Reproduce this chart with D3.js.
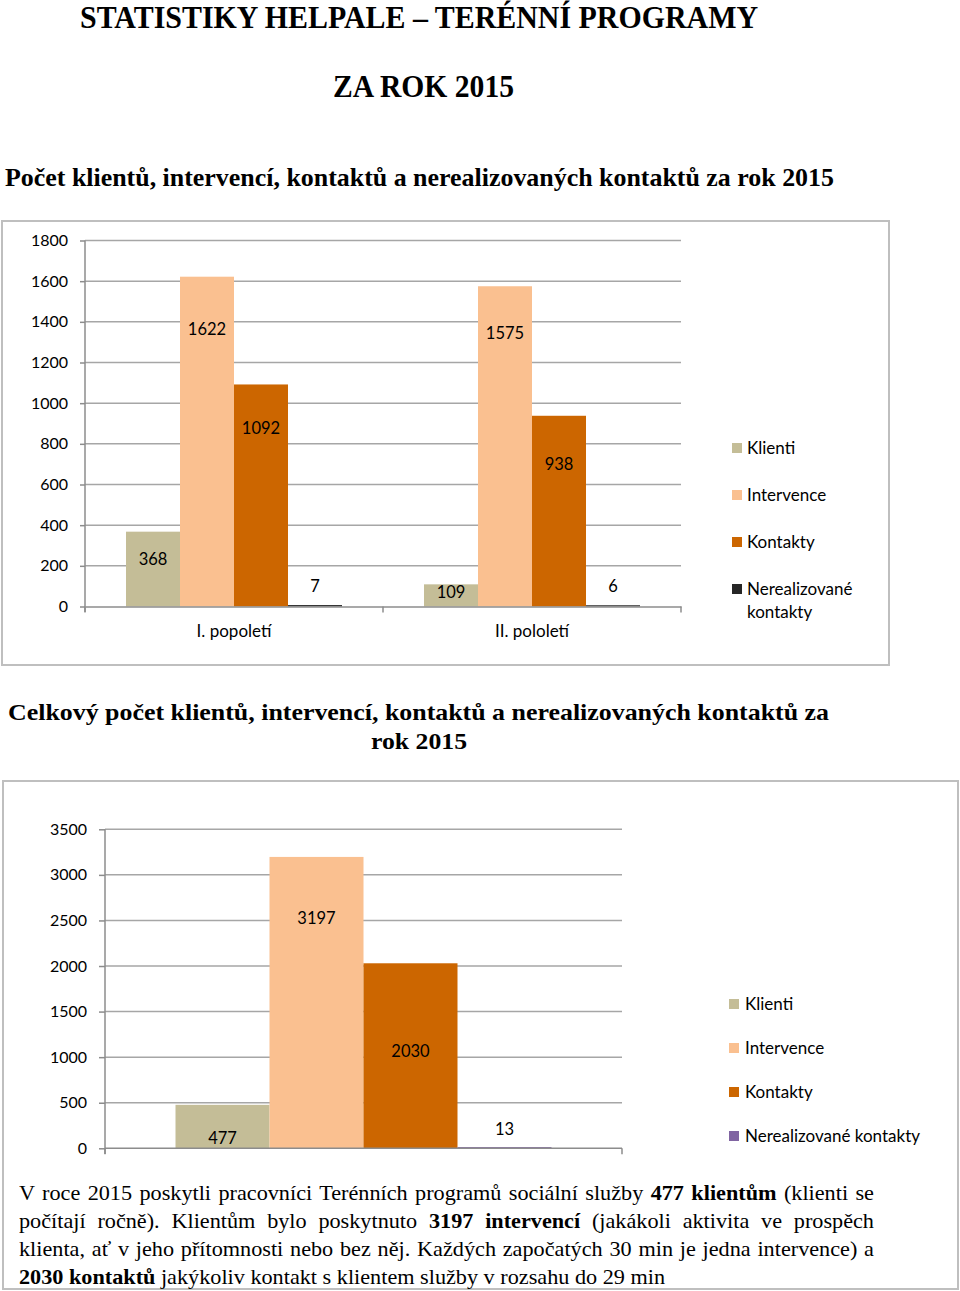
<!DOCTYPE html>
<html><head><meta charset="utf-8">
<script src="https://cdn.jsdelivr.net/npm/d3@7/dist/d3.min.js"></script>
<style>
html,body{margin:0;padding:0;background:#fff;}
#wrap{position:relative;width:960px;height:1291px;overflow:hidden;}
svg{position:absolute;left:0;top:0;}
#para{position:absolute;left:19px;top:1179px;width:855px;font-family:"Liberation Serif","Times New Roman",serif;font-size:22px;line-height:28px;color:#000;transform-origin:0 0;}
#para span.l{display:block;text-align:justify;text-align-last:justify;white-space:nowrap;}
#para span.last{display:inline-block;text-align:left;white-space:nowrap;}
</style></head>
<body><div id="wrap"><svg id="svg" width="960" height="1291"></svg><div id="para"></div></div>
<script>
// ---------- data ----------
const series = ["Klienti", "Intervence", "Kontakty", "Nerealizované kontakty"];
const halves = ["I. popoletí", "II. pololetí"];
const klienti = [368, 109];
const intervence = [1622, 1575];
const kontakty = [1092, 938];
const nerealizovane = [7, 6];
const yTicks1 = [0, 200, 400, 600, 800, 1000, 1200, 1400, 1600, 1800];

const totalValues = [477, 3197, 2030, 13];
const yTicks2 = [0, 500, 1000, 1500, 2000, 2500, 3000, 3500];

// ---------- styles ----------
const colors1 = ["#C4BD97", "#FAC090", "#CC6600", "#262626"];
const colors2 = ["#C4BD97", "#FAC090", "#CC6600", "#8064A2"];
const labelDy1 = [[28, 53, 44, -19], [8, 47, 48, -19]];
const labelDy2 = [33, 61, 88, -18];
const chartFont = "Lato, 'Open Sans', sans-serif";
const serif = "'Liberation Serif','Times New Roman',serif";
const gridColor = "#a6a6a6";

const svg = d3.select("#svg");

// ---------- titles ----------
function title(txt, x, y, size, len, anchor) {
  const t = svg.append("text").attr("x", x).attr("y", y)
    .attr("font-family", serif).attr("font-weight", "bold")
    .attr("font-size", size).attr("fill", "#000").text(txt);
  if (anchor) t.attr("text-anchor", anchor);
  if (len) t.attr("textLength", len).attr("lengthAdjust", "spacingAndGlyphs");
  return t;
}
title("STATISTIKY HELPALE – TERÉNNÍ PROGRAMY", 80, 28, 31, 678);
title("ZA ROK 2015", 333, 97, 31, 181);
title("Počet klientů, intervencí, kontaktů a nerealizovaných kontaktů za rok 2015", 5, 186, 26, 829);
title("Celkový počet klientů, intervencí, kontaktů a nerealizovaných kontaktů za", 8, 720, 24, 821);
title("rok 2015", 371, 749, 24, 96);

// ---------- chart 1 ----------
svg.append("rect").attr("x", 2).attr("y", 221).attr("width", 887).attr("height", 444)
  .attr("fill", "#fff").attr("stroke", "#bfbfbf").attr("stroke-width", 2);

const x1 = d3.scaleBand().domain(halves).range([85, 681]).paddingInner(0).paddingOuter(0);
const groupPad1 = 41;
const xs1 = d3.scaleBand().domain(series).range([groupPad1, x1.bandwidth() - groupPad1]).padding(0);
const y1 = d3.scaleLinear().domain([0, 1800]).range([606.5, 240.5]);

const g1 = svg.append("g");
g1.append("g").selectAll("line").data(yTicks1.filter(d => d > 0)).join("line")
  .attr("x1", 85).attr("x2", 681).attr("y1", d => y1(d)).attr("y2", d => y1(d))
  .attr("stroke", gridColor).attr("stroke-width", 1.5);
const ya1 = g1.append("g").attr("transform", "translate(85,0)")
  .call(d3.axisLeft(y1).tickValues(yTicks1).tickSize(5).tickPadding(12).tickFormat(d3.format("d")));
ya1.select(".domain").attr("stroke", "#8c8c8c").attr("stroke-width", 1.5).attr("d", "M0,240.5V612");
ya1.selectAll(".tick line").attr("stroke", "#8c8c8c").attr("stroke-width", 1.5);
ya1.selectAll(".tick text").attr("font-family", chartFont).attr("font-size", 16).attr("fill", "#000");

const rows1 = halves.map((h, i) => ({ half: h, vals: [klienti[i], intervence[i], kontakty[i], nerealizovane[i]] }));
const grp = g1.selectAll("g.grp").data(rows1).join("g").attr("class", "grp")
  .attr("transform", d => `translate(${x1(d.half)},0)`);
grp.selectAll("rect").data(d => d.vals.map((v, j) => ({ v, s: series[j], j }))).join("rect")
  .attr("x", d => xs1(d.s)).attr("width", xs1.bandwidth())
  .attr("y", d => y1(d.v)).attr("height", d => y1(0) - y1(d.v))
  .attr("fill", d => colors1[d.j]);
grp.each(function (d, i) {
  d3.select(this).selectAll("text.lab").data(d.vals.map((v, j) => ({ v, s: series[j], j }))).join("text")
    .attr("class", "lab")
    .attr("x", e => xs1(e.s) + xs1.bandwidth() / 2)
    .attr("y", e => y1(e.v) + labelDy1[i][e.j])
    .attr("dy", "0.35em").attr("text-anchor", "middle")
    .attr("font-family", chartFont).attr("font-size", 16.5).attr("fill", "#000")
    .text(e => e.v);
});
const xa1 = g1.append("g").attr("transform", `translate(0,${y1(0)})`)
  .call(d3.axisBottom(x1).tickSize(0).tickPadding(18));
xa1.select(".domain").attr("stroke", "#8c8c8c").attr("stroke-width", 1.5);
xa1.selectAll(".tick text").attr("font-family", chartFont).attr("font-size", 17).attr("fill", "#000");
g1.append("g").selectAll("line").data([85, 383, 681]).join("line")
  .attr("x1", d => d).attr("x2", d => d).attr("y1", y1(0)).attr("y2", y1(0) + 6)
  .attr("stroke", "#8c8c8c").attr("stroke-width", 1.5);

const leg1 = svg.append("g").selectAll("g").data(series).join("g")
  .attr("transform", (d, i) => `translate(732,${448 + i * 47})`);
leg1.append("rect").attr("x", 0).attr("y", -5).attr("width", 10).attr("height", 10)
  .attr("fill", (d, i) => colors1[i]);
leg1.append("text").attr("x", 15).attr("y", 0)
  .attr("font-family", chartFont).attr("font-size", 17).attr("fill", "#000")
  .each(function (d) {
    const parts = d.split(" ");
    const t = d3.select(this);
    parts.forEach((p, k) => t.append("tspan").attr("x", 15).attr("dy", k === 0 ? "0.35em" : "23").text(p));
  });

// ---------- chart 2 ----------
svg.append("rect").attr("x", 3).attr("y", 781).attr("width", 955).attr("height", 508)
  .attr("fill", "none").attr("stroke", "#bfbfbf").attr("stroke-width", 2);

const x2 = d3.scaleBand().domain(series).range([175.5, 551.5]).padding(0);
const y2 = d3.scaleLinear().domain([0, 3500]).range([1148.3, 829.3]);
const g2 = svg.append("g");
g2.append("g").selectAll("line").data(yTicks2.filter(d => d > 0)).join("line")
  .attr("x1", 105).attr("x2", 622).attr("y1", d => y2(d)).attr("y2", d => y2(d))
  .attr("stroke", gridColor).attr("stroke-width", 1.5);
const ya2 = g2.append("g").attr("transform", "translate(105,0)")
  .call(d3.axisLeft(y2).tickValues(yTicks2).tickSize(6).tickPadding(12).tickFormat(d3.format("d")));
ya2.select(".domain").attr("stroke", "#8c8c8c").attr("stroke-width", 1.5).attr("d", "M0,829.3V1154");
ya2.selectAll(".tick line").attr("stroke", "#8c8c8c").attr("stroke-width", 1.5);
ya2.selectAll(".tick text").attr("font-family", chartFont).attr("font-size", 16).attr("fill", "#000");

const data2 = totalValues.map((v, j) => ({ v, s: series[j], j }));
g2.selectAll("rect.bar").data(data2).join("rect").attr("class", "bar")
  .attr("x", d => x2(d.s)).attr("width", x2.bandwidth())
  .attr("y", d => y2(d.v)).attr("height", d => y2(0) - y2(d.v))
  .attr("fill", d => colors2[d.j]);
g2.append("line").attr("x1", 105).attr("x2", 622).attr("y1", y2(0)).attr("y2", y2(0))
  .attr("stroke", "#8c8c8c").attr("stroke-width", 1.5);
g2.append("g").selectAll("line").data([105, 622]).join("line")
  .attr("x1", d => d).attr("x2", d => d).attr("y1", y2(0)).attr("y2", y2(0) + 6)
  .attr("stroke", "#8c8c8c").attr("stroke-width", 1.5);
g2.selectAll("text.lab").data(data2).join("text").attr("class", "lab")
  .attr("x", d => x2(d.s) + x2.bandwidth() / 2)
  .attr("y", d => y2(d.v) + labelDy2[d.j]).attr("dy", "0.35em").attr("text-anchor", "middle")
  .attr("font-family", chartFont).attr("font-size", 16.5).attr("fill", "#000")
  .text(d => d.v);

const leg2 = svg.append("g").selectAll("g").data(series).join("g")
  .attr("transform", (d, i) => `translate(729,${1004 + i * 44})`);
leg2.append("rect").attr("x", 0).attr("y", -5).attr("width", 10).attr("height", 10)
  .attr("fill", (d, i) => colors2[i]);
leg2.append("text").attr("x", 16).attr("y", 0).attr("dy", "0.35em")
  .attr("font-family", chartFont).attr("font-size", 17).attr("fill", "#000").text(d => d);

// ---------- paragraph ----------
const paraLines = [
  'V roce 2015 poskytli pracovníci Terénních programů sociální služby <b>477 klientům</b> (klienti se',
  'počítají ročně). Klientům bylo poskytnuto <b>3197 intervencí</b> (jakákoli aktivita ve prospěch',
  'klienta, ať v jeho přítomnosti nebo bez něj. Každých započatých 30 min je jedna intervence) a',
  '<b>2030 kontaktů</b> jakýkoliv kontakt s klientem služby v rozsahu do 29 min'
];
const para = d3.select("#para");
para.selectAll("span").data(paraLines).join("span")
  .attr("class", (d, i) => i < paraLines.length - 1 ? "l" : "last")
  .html(d => d);
// condense horizontally so the last (unjustified) line matches the reference width
const lastW = para.select("span.last").node().getBoundingClientRect().width;
const sx = 646 / lastW;
para.style("width", (855 / sx) + "px").style("transform", `scaleX(${sx})`);
</script></body></html>
